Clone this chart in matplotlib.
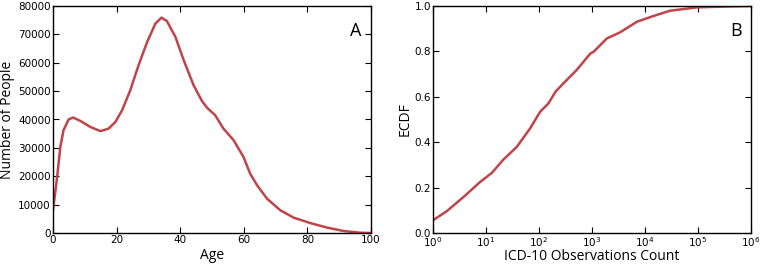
import matplotlib
matplotlib.use("Agg")
import matplotlib.pyplot as plt

# Panel A: age distribution
age = [0, 1.3, 2.3, 3.3, 4.9, 6.3, 8.6, 11.7, 14.9, 17.5, 19.6, 21.7, 24.3,
       26.9, 29.6, 32.2, 34.1, 35.8, 38.5, 41.1, 44.2, 46.8, 48.4, 51.0, 53.6,
       56.8, 59.9, 62.0, 64.2, 67.3, 71.5, 75.7, 80.9, 86.2, 91.4, 96.6, 100]
people = [8000, 19700, 30300, 36200, 40000, 40700, 39500, 37400, 35900, 36800,
          39100, 43200, 50300, 59100, 67300, 73800, 75900, 74700, 69100, 60900,
          52100, 46600, 44200, 41500, 36800, 32700, 26800, 20900, 16800, 12100,
          8000, 5400, 3500, 1900, 700, 100, 0]

# Panel B: ECDF of ICD-10 observation counts
obs_count = [1, 1.84, 3.78, 7.76, 12.9, 21.4, 38, 67.6, 105, 151, 204, 288,
             513, 933, 1070, 1905, 3390, 7080, 14450, 29500, 95500, 263000,
             1000000]
ecdf = [0.056, 0.097, 0.159, 0.225, 0.265, 0.324, 0.379, 0.460, 0.534, 0.571,
        0.622, 0.659, 0.718, 0.791, 0.798, 0.857, 0.884, 0.931, 0.956, 0.979,
        0.994, 0.997, 1.0]

line_color = "#c0444a"
label_font = "Open Sans"

plt.rcParams.update({
    "xtick.direction": "in", "ytick.direction": "in",
    "xtick.top": True, "ytick.right": True,
    "xtick.major.size": 4, "ytick.major.size": 4,
    "xtick.labelsize": 7.5, "ytick.labelsize": 7.5,
})

fig = plt.figure(figsize=(7.6, 2.64), dpi=100)
ax1 = fig.add_axes([53 / 760, 31 / 264, 318 / 760, 227 / 264])
ax2 = fig.add_axes([433 / 760, 31 / 264, 318 / 760, 227 / 264])

ax1.plot(age, people, color=line_color, lw=1.8)
ax1.set_xlim(0, 100)
ax1.set_ylim(0, 80000)
ax1.set_xticks(range(0, 101, 20))
ax1.set_yticks(range(0, 80001, 10000))
ax1.set_xlabel("Age", family=label_font, fontsize=10)
ax1.set_ylabel("Number of People", family=label_font, fontsize=10)
ax1.xaxis.set_label_coords(0.5, -0.068)
ax1.yaxis.set_label_coords(-0.12, 0.5)
ax1.text(0.97, 0.93, "A", transform=ax1.transAxes, ha="right", va="top",
         family=label_font, fontsize=13)

ax2.plot(obs_count, ecdf, color=line_color, lw=1.8)
ax2.set_xscale("log")
ax2.set_xlim(1, 1e6)
ax2.set_ylim(0, 1.0)
ax2.set_yticks([0, 0.2, 0.4, 0.6, 0.8, 1.0])
ax2.minorticks_off()
ax2.set_xlabel("ICD-10 Observations Count", family=label_font, fontsize=10)
ax2.set_ylabel("ECDF", family=label_font, fontsize=10)
ax2.xaxis.set_label_coords(0.5, -0.07)
ax2.yaxis.set_label_coords(-0.065, 0.5)
ax2.text(0.97, 0.93, "B", transform=ax2.transAxes, ha="right", va="top",
         family=label_font, fontsize=13)

for ax in (ax1, ax2):
    ax.tick_params(pad=1.5)
    for s in ax.spines.values():
        s.set_linewidth(1.0)

fig.savefig("out.png", dpi=100, facecolor="white")
